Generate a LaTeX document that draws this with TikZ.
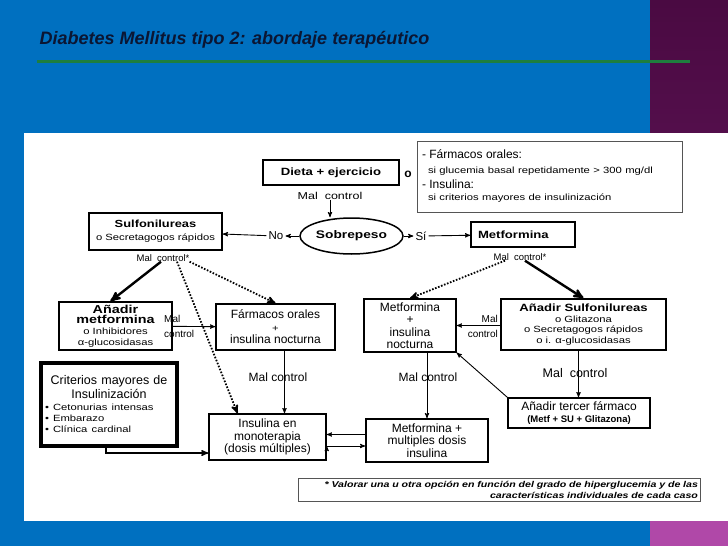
\documentclass[tikz,border=0pt]{standalone}
\usepackage{fontspec}
\setmainfont{Liberation Sans}
\newfontfamily\ancha{Liberation Sans}[FakeStretch=1.25]
\usetikzlibrary{arrows,shapes.geometric}
\definecolor{fondo}{HTML}{0070C0}
\definecolor{moradoA}{HTML}{4A0A42}
\definecolor{moradoB}{HTML}{6E1A66}
\definecolor{rosa}{HTML}{B048A8}
\definecolor{titulo}{HTML}{0B1633}
\definecolor{verde}{HTML}{1E7E3E}
\definecolor{gris}{HTML}{555555}
\newcommand{\chica}{\ancha\fontsize{9}{10}\selectfont}
\newcommand{\media}{\fontsize{12}{12.5}\selectfont}

\begin{document}
\begin{tikzpicture}[x=1pt,y=-1pt,>=stealth',
    caja/.style={draw, line width=1.5pt, align=center, inner sep=1pt, font=\media},
    etiq/.style={inner sep=0pt, font=\ancha\fontsize{10}{12}\selectfont},
    grueso/.style={->, line width=2.4pt},
    punteado/.style={->, line width=1.8pt, dash pattern=on 1.6pt off 1.6pt}]
    \useasboundingbox (0,0) rectangle (728,546);
    % fondo
    \fill[fondo] (0,0) rectangle (728,546);
    \shade[top color=moradoA, bottom color=moradoB] (650,0) rectangle (728,520);
    \fill[rosa] (650,520) rectangle (728,546);
    \fill[white] (24,133) rectangle (728,521);
    \node[anchor=west, text=titulo, font=\bfseries\itshape\fontsize{18}{19}\selectfont] (titulo) at (36,40) {Diabetes Mellitus tipo 2: abordaje terapéutico};
    \draw[verde, line width=3pt] (37,61) -- (690,61);

    % cajas
    \node[caja, minimum width=136pt, minimum height=25pt, font=\ancha\bfseries\fontsize{10.5}{12}\selectfont] (dieta) at (331,172.5) {Dieta + ejercicio};
    \node[etiq, font=\bfseries\fontsize{12}{12}\selectfont] (o) at (408,174) {o};
    \node[draw=gris, line width=0.8pt, minimum width=265pt, minimum height=71pt, text width=255pt, align=left, inner sep=1pt] (nota) at (549.5,176.5)
        {\fontsize{12}{15}\selectfont - Fármacos orales:\\
         \hspace*{6pt}{\chica si glucemia basal repetidamente > 300 mg/dl}\\
         - Insulina:\\
         \hspace*{6pt}{\chica si criterios mayores de insulinización}};
    \node[caja, ellipse, minimum width=103pt, minimum height=36pt, inner sep=0pt, font=\ancha\bfseries\fontsize{11}{12}\selectfont] (sobre) at (351.5,236) {Sobrepeso};
    \node[caja, minimum width=133pt, minimum height=37pt, font=\fontsize{11}{13}\selectfont] (sulfo) at (155.5,231.5)
        {{\ancha\bfseries\fontsize{10.3}{12}\selectfont Sulfonilureas}\\ {\chica o Secretagogos rápidos}};
    \node[caja, minimum width=104pt, minimum height=25pt, text width=90pt, align=left, font=\ancha\bfseries\fontsize{10.5}{12}\selectfont] (metf) at (523,234.5) {Metformina};
    \node[caja, minimum width=113pt, minimum height=48pt, inner sep=2pt, font=\ancha\bfseries\fontsize{11.5}{11}\selectfont] (anmet) at (115.5,326)
        {Añadir\\[-1pt] metformina\\ {\chica\mdseries o Inhibidores}\\ {\chica\mdseries α-glucosidasas}};
    \node[caja, minimum width=119pt, minimum height=46pt] (farm) at (275.5,327)
        {Fármacos orales\\ {\chica +}\\ insulina nocturna};
    \node[caja, minimum width=92pt, minimum height=53pt] (metins) at (410,325.5)
        {Metformina\\ +\\ insulina\\ nocturna};
    \node[caja, minimum width=165pt, minimum height=51pt, font=\fontsize{11.5}{10.5}\selectfont] (ansulf) at (583.5,324.5)
        {{\ancha\bfseries\fontsize{10.5}{11}\selectfont Añadir Sulfonilureas}\\ {\chica o Glitazona}\\ {\chica o Secretagogos rápidos}\\ {\chica o i. α-glucosidasas}};
    \node[caja, line width=3.5pt, minimum width=136pt, minimum height=83pt, text width=128pt, align=left, font=\fontsize{12.5}{14}\selectfont] (criter) at (109,404.5)
        {\makebox[128pt]{Criterios mayores de}\\ \makebox[128pt]{Insulinización}\\[-2pt]
         {\chica • Cetonurias intensas}\\[-3pt] {\chica • Embarazo}\\[-3pt] {\chica • Clínica cardinal}};
    \node[caja, minimum width=117pt, minimum height=46pt] (insmono) at (267.5,437)
        {Insulina en\\ monoterapia\\ (dosis múltiples)};
    \node[caja, minimum width=122pt, minimum height=43pt] (metmul) at (427,440.5)
        {Metformina +\\ multiples dosis\\ insulina};
    \node[caja, minimum width=142pt, minimum height=30pt] (tercer) at (579,413)
        {Añadir tercer fármaco\\ {\bfseries\fontsize{9.5}{10}\selectfont (Metf + SU + Glitazona)}};
    \node[draw=gris, line width=0.8pt, minimum width=402pt, minimum height=23pt, text width=398pt, align=right, inner sep=1pt,
        font=\ancha\bfseries\itshape\fontsize{8.5}{11}\selectfont] (aviso) at (499,489.5)
        {* Valorar una u otra opción en función del grado de hiperglucemia y de las\\ características individuales de cada caso};

    % etiquetas
    \node[etiq] (mc1) at (330,196) {Mal\ \ control};
    \node[etiq, inner sep=2pt, font=\fontsize{11.5}{12}\selectfont] (no) at (276,236) {No};
    \node[etiq, inner sep=2pt, font=\fontsize{11.5}{12}\selectfont] (si) at (421,236) {Sí};
    \node[etiq, font=\fontsize{9.5}{10}\selectfont] (mc2) at (163,258) {Mal\ \ control*};
    \node[etiq, font=\fontsize{9.5}{10}\selectfont] (mc3) at (520,257) {Mal\ \ control*};
    \node[etiq, anchor=west, align=left, font=\fontsize{10}{15}\selectfont] (mc4) at (164,326) {Mal\\control};
    \node[etiq, anchor=east, align=right, font=\fontsize{10}{15}\selectfont] (mc5) at (498,326) {Mal\\control};
    \node[etiq, font=\fontsize{12}{12}\selectfont] (mc6) at (278,377) {Mal control};
    \node[etiq, font=\fontsize{12}{12}\selectfont] (mc7) at (428,377) {Mal control};
    \node[etiq, font=\fontsize{12.5}{12}\selectfont] (mc8) at (575,373) {Mal\ \ control};

    % flechas
    \draw[->, line width=0.9pt]
        (mc1) edge (mc1 |- sobre.north)
        (sobre) edge (no)
        (no) edge (sulfo)
        (sobre) edge (si)
        (si) edge (metf)
        (anmet) edge (farm)
        (ansulf.west |- metins) edge (metins)
        ([xshift=9pt]farm.south) edge ([xshift=9pt]farm.south |- insmono.north)
        (metins.south -| metmul.north) edge (metmul.north)
        ([xshift=-5pt]ansulf.south) edge ([xshift=-5pt]ansulf.south |- tercer.north)
        (tercer.north west) edge (metins.south east)
        ([yshift=6pt]metmul.west) edge ([yshift=6pt]metmul.west -| insmono.east)
        ([yshift=-9pt]insmono.east) edge ([yshift=-9pt]insmono.east -| metmul.west);
    \draw[->, line width=1.4pt] ([xshift=-3pt]criter.south) |- ([yshift=-16pt]insmono.west);
    \draw[grueso] ([xshift=-2pt]mc2.south) -- ([xshift=-5pt]anmet.north);
    \draw[grueso] ([xshift=5pt]mc3.south) -- (ansulf.north);
    \draw[punteado] ([xshift=14pt]mc2.south) -- ([xshift=-30pt]insmono.north);
    \draw[punteado] (mc2.south east) -- (farm.north);
    \draw[punteado] ([xshift=-15pt]mc3.south) -- (metins.north);
\end{tikzpicture}
\end{document}
